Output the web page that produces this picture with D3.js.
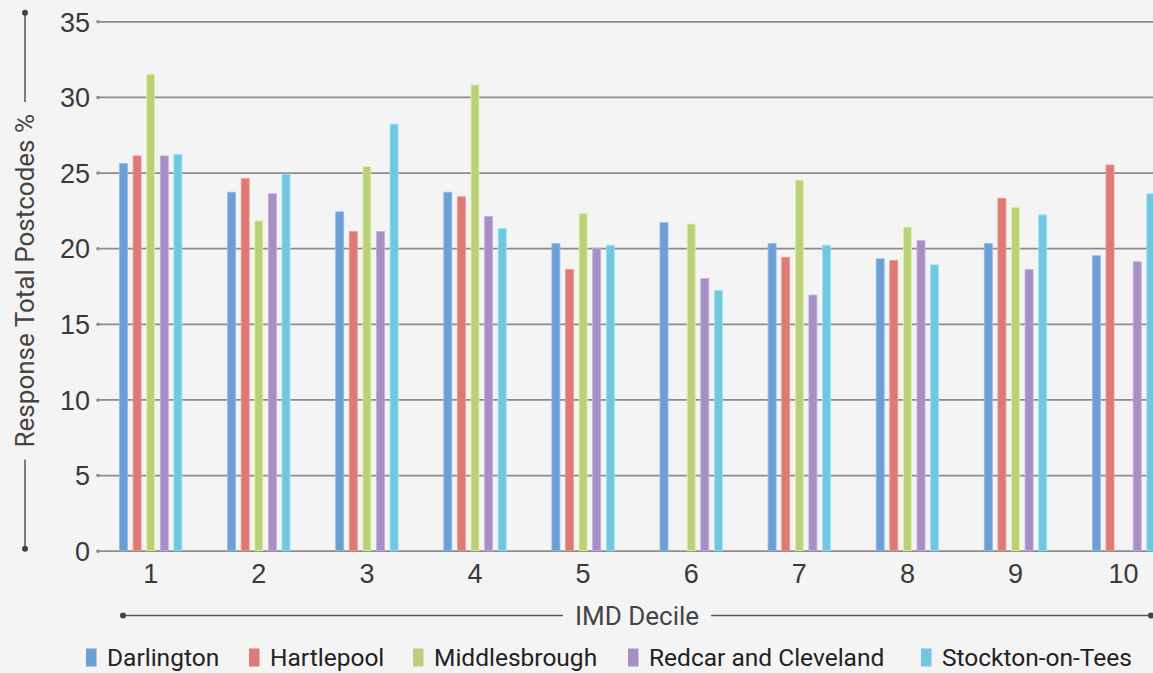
<!DOCTYPE html>
<html>
<head>
<meta charset="utf-8">
<script src="https://cdn.jsdelivr.net/npm/d3@7"></script>
<style>
  html, body { margin: 0; padding: 0; background: #f4f4f4; }
  svg { display: block; font-family: Roboto, "Noto Sans", sans-serif; }
</style>
</head>
<body>
<svg id="chart" width="1153" height="673"></svg>
<script>
// IMD deciles on the x axis
const deciles = ["1", "2", "3", "4", "5", "6", "7", "8", "9", "10"];

// Local authority series
const seriesNames = ["Darlington", "Hartlepool", "Middlesbrough", "Redcar and Cleveland", "Stockton-on-Tees"];
const seriesColors = ["#6f9fd2", "#dc7b76", "#bbd07d", "#a690c3", "#72c6dd"];

// Response total postcodes (%) per decile; null = no value
const darlington    = [25.6, 23.7, 22.4, 23.7, 20.3, 21.7, 20.3, 19.3, 20.3, 19.5];
const hartlepool    = [26.1, 24.6, 21.1, 23.4, 18.6, null, 19.4, 19.2, 23.3, 25.5];
const middlesbrough = [31.5, 21.8, 25.4, 30.8, 22.3, 21.6, 24.5, 21.4, 22.7, null];
const redcar        = [26.1, 23.6, 21.1, 22.1, 20.0, 18.0, 16.9, 20.5, 18.6, 19.1];
const stockton      = [26.2, 24.9, 28.2, 21.3, 20.2, 17.2, 20.2, 18.9, 22.2, 23.6];

const yTicks = [0, 5, 10, 15, 20, 25, 30, 35];

const seriesValues = [darlington, hartlepool, middlesbrough, redcar, stockton];

const svg = d3.select("#chart");
const W = 1153;
const plotLeft = 98, plotTop = 21.3, plotBottom = 550.7;
const fontSize = 26;
const tickFontSize = 27;
const textColor = "#3a3a3a";
const gridColor = "#8c8c8c";

svg.append("rect").attr("width", W).attr("height", 673).attr("fill", "#f4f4f4");

// Scales
const y = d3.scaleLinear().domain([0, 35]).range([plotBottom, plotTop]);
const x0 = d3.scaleBand().domain(deciles).range([96.65, 96.65 + 108.1 * deciles.length]).paddingInner(0).paddingOuter(0);
const x1 = d3.scaleBand().domain(seriesNames).range([20.05, 88.05]).paddingInner(0.41).paddingOuter(0.205);

// Gridlines with value labels
const yAxis = d3.axisLeft(y)
  .tickValues(yTicks)
  .tickSize(-(W - plotLeft))
  .tickPadding(8)
  .tickFormat(d3.format("d"));

const gy = svg.append("g").attr("transform", `translate(${plotLeft},0)`).call(yAxis);
gy.select(".domain").remove();
gy.selectAll(".tick line").attr("stroke", gridColor).attr("stroke-width", 1.7);
gy.selectAll(".tick text")
  .attr("fill", textColor)
  .attr("font-size", tickFontSize)
  .attr("dy", "0.36em");
gy.selectAll(".tick").append("circle").attr("r", 1.8).attr("fill", gridColor);

// Bars
const rows = deciles.map((d, i) => ({
  decile: d,
  values: seriesNames.map((s, j) => ({ series: s, color: seriesColors[j], value: seriesValues[j][i] }))
}));

const groups = svg.append("g").selectAll("g")
  .data(rows)
  .join("g")
  .attr("transform", d => `translate(${x0(d.decile)},0)`);

groups.selectAll("rect")
  .data(d => d.values.filter(v => v.value != null))
  .join("rect")
  .attr("x", d => x1(d.series))
  .attr("width", x1.bandwidth())
  .attr("y", d => y(d.value))
  .attr("height", d => y(0) - y(d.value))
  .attr("fill", d => d.color)
  .attr("stroke", d => d3.color(d.color).brighter(0.5))
  .attr("stroke-width", 0.8);

// Decile labels
const xAxis = d3.axisBottom(x0).tickSize(0).tickPadding(13);
const gx = svg.append("g").attr("transform", `translate(0,${plotBottom})`).call(xAxis);
gx.select(".domain").remove();
gx.selectAll(".tick text").attr("fill", textColor).attr("font-size", tickFontSize);

// Axis titles flanked by rules
const titleColor = "#444";
const ruleColor = "#555";

// x title
const xtY = 615.5, xtL = 123, xtR = 1151, xtMid = (xtL + xtR) / 2;
const xTitle = svg.append("text")
  .attr("x", xtMid).attr("y", xtY).attr("dy", "0.36em")
  .attr("text-anchor", "middle")
  .attr("font-size", fontSize).attr("fill", titleColor)
  .text("IMD Decile");
const xtw = xTitle.node().getComputedTextLength() / 2 + 12;
svg.append("line").attr("x1", xtL).attr("x2", xtMid - xtw).attr("y1", xtY).attr("y2", xtY).attr("stroke", ruleColor).attr("stroke-width", 1.5);
svg.append("line").attr("x1", xtMid + xtw).attr("x2", xtR).attr("y1", xtY).attr("y2", xtY).attr("stroke", ruleColor).attr("stroke-width", 1.5);
svg.append("circle").attr("cx", xtL).attr("cy", xtY).attr("r", 3).attr("fill", "#444");
svg.append("circle").attr("cx", xtR).attr("cy", xtY).attr("r", 3).attr("fill", "#444");

// y title
const ytX = 25, ytT = 12.7, ytB = 548.7, ytMid = (ytT + ytB) / 2;
const yTitle = svg.append("text")
  .attr("transform", `translate(${ytX},${ytMid}) rotate(-90)`)
  .attr("dy", "0.36em")
  .attr("text-anchor", "middle")
  .attr("font-size", fontSize).attr("fill", titleColor)
  .text("Response Total Postcodes %");
const ytw = yTitle.node().getComputedTextLength() / 2 + 12;
svg.append("line").attr("x1", ytX).attr("x2", ytX).attr("y1", ytT).attr("y2", ytMid - ytw).attr("stroke", ruleColor).attr("stroke-width", 1.5);
svg.append("line").attr("x1", ytX).attr("x2", ytX).attr("y1", ytMid + ytw).attr("y2", ytB).attr("stroke", ruleColor).attr("stroke-width", 1.5);
svg.append("circle").attr("cx", ytX).attr("cy", ytT).attr("r", 3).attr("fill", "#444");
svg.append("circle").attr("cx", ytX).attr("cy", ytB).attr("r", 3).attr("fill", "#444");

// Legend
const legendX = [86, 249, 413, 628, 921];
const legendY = 657.5;
const legend = svg.append("g").selectAll("g")
  .data(seriesNames)
  .join("g")
  .attr("transform", (d, i) => `translate(${legendX[i]},${legendY})`);
legend.append("rect")
  .attr("x", 0).attr("y", -9).attr("width", 10.5).attr("height", 18)
  .attr("fill", (d, i) => seriesColors[i]);
legend.append("text")
  .attr("x", 21).attr("y", 0).attr("dy", "0.36em")
  .attr("font-size", 24.5).attr("fill", "#222")
  .text(d => d);
</script>
</body>
</html>
